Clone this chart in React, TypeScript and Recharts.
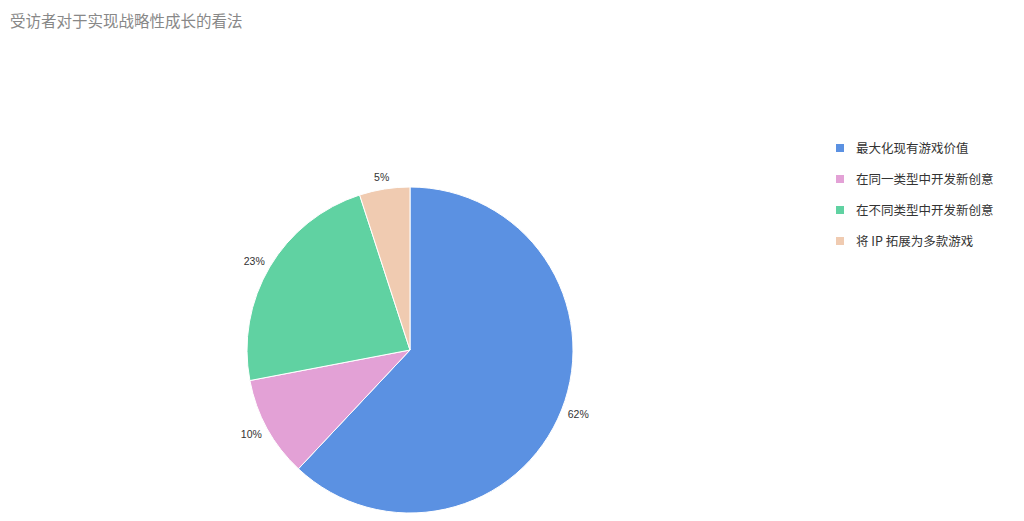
import { PieChart, Pie, Cell, Legend } from "recharts";

const categories = ["最大化现有游戏价值", "在同一类型中开发新创意", "在不同类型中开发新创意", "将 IP 拓展为多款游戏"];
const shares = [62, 10, 23, 5];
const colors = ["#5b91e2", "#e3a1d6", "#60d2a2", "#f0cbb1"];

const data = categories.map((name, i) => ({ name, value: shares[i] }));

const FONT = '"Noto Sans CJK SC", "Noto Sans", sans-serif';
const RADIAN = Math.PI / 180;

const renderLabel = (props: any) => {
  const { cx, cy, midAngle, outerRadius, value } = props;
  const cos = Math.cos(-midAngle * RADIAN);
  const sin = Math.sin(-midAngle * RADIAN);
  const x = cx + cos * (outerRadius + 18);
  const y = cy + sin * (outerRadius + 12);
  return (
    <text x={x} y={y} fill="#333" fontSize={10.5} fontFamily='"Liberation Sans", Arial, sans-serif' textAnchor="middle" dominantBaseline="central">
      {value}%
    </text>
  );
};

const renderLegend = () => (
  <div style={{ fontFamily: FONT }}>
    {categories.map((c, i) => (
      <div key={c} style={{ display: "flex", alignItems: "center", height: 31 }}>
        <span style={{ width: 8, height: 8, background: colors[i], display: "inline-block", marginRight: 12 }} />
        <span style={{ fontSize: 12.5, color: "#333" }}>{c}</span>
      </div>
    ))}
  </div>
);

export default function App() {
  return (
    <div style={{ position: "absolute", left: 0, top: 0, width: 1024, height: 521, background: "#fff" }}>
      <div style={{ position: "absolute", left: 10, top: 9, fontSize: 15.5, color: "#888", fontFamily: FONT }}>
        受访者对于实现战略性成长的看法
      </div>
      <PieChart width={1024} height={521} margin={{ top: 0, right: 0, bottom: 0, left: 0 }}>
        <Pie
          data={data}
          dataKey="value"
          nameKey="name"
          cx={410}
          cy={350}
          outerRadius={163}
          startAngle={90}
          endAngle={-270}
          stroke="#fff"
          strokeWidth={1}
          label={renderLabel}
          labelLine={false}
          isAnimationActive={false}
        >
          {data.map((d, i) => (
            <Cell key={d.name} fill={colors[i]} />
          ))}
        </Pie>
        <Legend
          content={renderLegend}
          layout="vertical"
          wrapperStyle={{ position: "absolute", left: 836, top: 132, width: 180 }}
        />
      </PieChart>
    </div>
  );
}
